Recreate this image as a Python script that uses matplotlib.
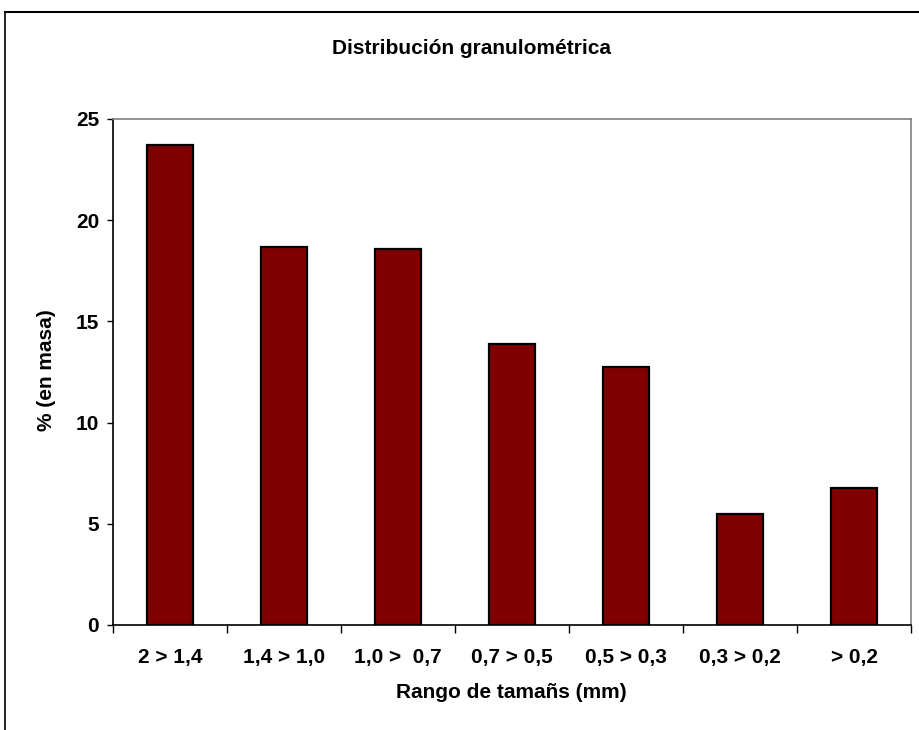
import matplotlib
matplotlib.use('Agg')
import matplotlib.pyplot as plt
from matplotlib.lines import Line2D
import numpy as np

# datos
rangos = ['2 > 1,4', '1,4 > 1,0', '1,0 >  0,7', '0,7 > 0,5', '0,5 > 0,3', '0,3 > 0,2', '> 0,2']
porcentaje = [23.7, 18.7, 18.6, 13.9, 12.75, 5.5, 6.75]
y_ticks = [0, 5, 10, 15, 20, 25]

plt.rcParams['font.family'] = ['Liberation Sans', 'DejaVu Sans']
plt.rcParams['font.weight'] = 'bold'

W, H = 919, 730
fs = 15
fig = plt.figure(figsize=(W / 100, H / 100), dpi=100, facecolor='white')

# marco exterior (cortado a la derecha y abajo)
fig.add_artist(Line2D([5 / W, 1], [1 - 12 / H, 1 - 12 / H], color='black', lw=1.5))
fig.add_artist(Line2D([5 / W, 5 / W], [0, 1 - 12 / H], color='black', lw=1.2))

ax = fig.add_axes([113 / W, 105 / H, 798 / W, 506 / H])
x = np.arange(len(rangos))
ax.bar(x, porcentaje, width=0.41, color='#800000', edgecolor='black', linewidth=1.6, zorder=3)

ax.set_xlim(-0.5, len(rangos) - 0.5)
ax.set_ylim(0, 25)
ax.set_yticks(y_ticks)
ax.tick_params(axis='y', direction='out', length=4, width=1, pad=6, labelsize=fs)

# ticks del eje x en los limites de categoria, etiquetas en el centro
ax.set_xticks(np.arange(-0.5, len(rangos), 1.0))
ax.set_xticklabels([])
ax.set_xticks(x, minor=True)
ax.set_xticklabels(rangos, minor=True, fontsize=fs, fontweight='bold')
ax.tick_params(axis='x', which='major', direction='out', length=6, width=1)
ax.tick_params(axis='x', which='minor', length=0, pad=16.5)

for s in ['left', 'bottom']:
    ax.spines[s].set_color('black')
    ax.spines[s].set_linewidth(1.2)
for s in ['top', 'right']:
    ax.spines[s].set_color('#808080')
    ax.spines[s].set_linewidth(1.2)

fig.text(471 / W, 1 - 48 / H, 'Distribución granulométrica', ha='center', va='center',
         fontsize=fs, fontweight='bold')
fig.text(511 / W, 1 - 693 / H, 'Rango de tamañs (mm)', ha='center', va='center',
         fontsize=fs, fontweight='bold')
fig.text(47 / W, 1 - 370 / H, '% (en masa)', ha='center', va='center', rotation=90,
         fontsize=fs, fontweight='bold')

plt.savefig('out.png', dpi=100, facecolor='white')
